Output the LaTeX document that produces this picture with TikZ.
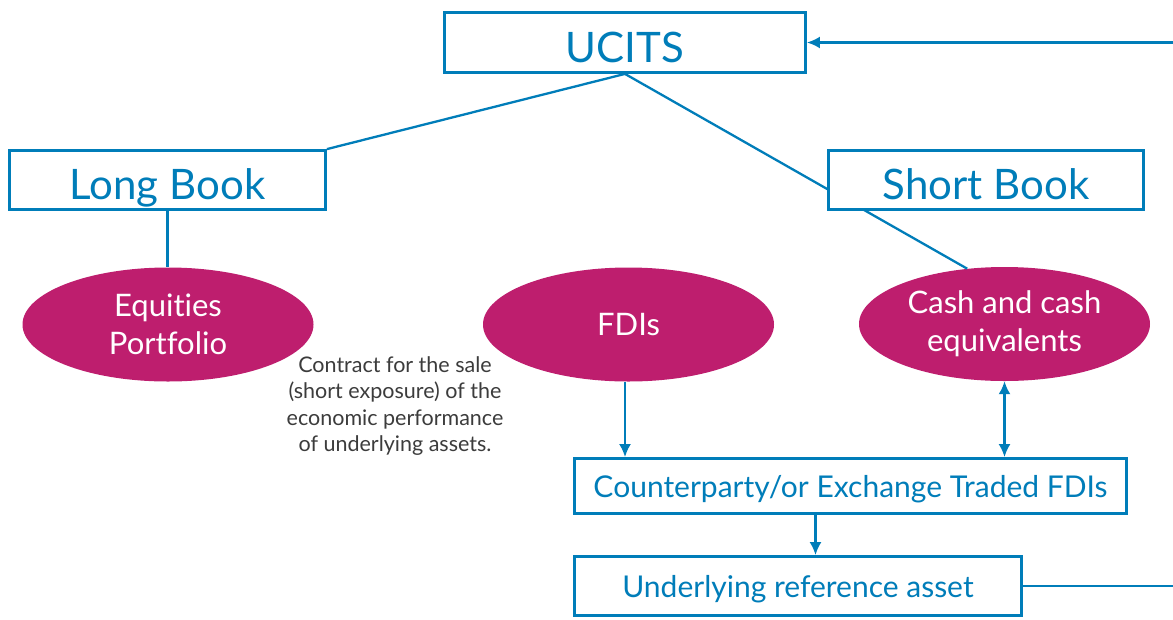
\documentclass[tikz,border=0pt]{standalone}
\usepackage{fontspec}
\setmainfont{Lato}[Ligatures=NoCommon]
\usetikzlibrary{arrows.meta,shapes.geometric,positioning}
\definecolor{ublue}{RGB}{0,125,185}
\definecolor{umag}{RGB}{190,30,110}
\definecolor{ugray}{RGB}{60,60,60}

\begin{document}
\begin{tikzpicture}[x=1pt, y=-1pt]
% one unit is one pixel of the original chart, y grows downwards

\tikzstyle{box} 	= [draw=ublue, line width=2.8pt, fill=white, rectangle, text=ublue, inner sep=0pt, text depth=0pt] % framed blue box
\tikzstyle{bigbox} 	= [box, minimum height=62pt, text height=39pt, font=\fontsize{42}{46}\selectfont]
\tikzstyle{lowbox} 	= [box, font=\fontsize{30}{34}\selectfont]
\tikzstyle{blob} 	= [ellipse, fill=umag, text=white, minimum width=291pt, minimum height=114pt, inner sep=0pt, align=center, font=\fontsize{31}{38}\selectfont] % magenta ellipse
\tikzstyle{link} 	= [draw=ublue, line width=2.3pt] % plain connector
\tikzstyle{arrow} 	= [link, -{Latex[length=13pt,width=12pt]}] % standard arrow
\tikzstyle{darrow} 	= [link, {Latex[length=13pt,width=12pt]}-{Latex[length=13pt,width=12pt]}]

\useasboundingbox (0,0) rectangle (1173,619);

% top box and the two books
\node(ucits)[bigbox, minimum width=361pt, minimum height=60pt] at (625,42.5){UCITS};
\node(lbook)[bigbox, minimum width=316pt, minimum height=59pt] at (167.5,180){Long Book};

% ellipses
\node(eq)[blob] at (168,324.5){Equities\\Portfolio};
\node(fdi)[blob] at (628.5,324.5){FDIs};
\node(cash)[blob] at (1004.5,324){Cash and cash\\equivalents};

% links from the top (the right one runs behind the short book)
\draw[link](ucits.south)--(lbook.north east);
\draw[link](ucits.south)--(cash.124);
\node(sbook)[bigbox, minimum width=315pt, minimum height=59pt] at (986,180){Short Book};
\draw[link](lbook.south)--(lbook.south |- eq.north);

% note under the equities
\node(note)[text=ugray, align=center, font=\fontsize{21.5}{26.5}\selectfont] at (395,406){Contract for the sale\\(short exposure) of the\\economic performance\\of underlying assets.};

% lower boxes
\node(cpty)[lowbox, minimum width=552pt, minimum height=55pt] at (850.5,486){Counterparty/or Exchange Traded FDIs};
\node(ura)[lowbox, minimum width=447pt, minimum height=59pt] at (798,586){Underlying reference asset};

% arrows
\draw[arrow]([xshift=-3.5pt]fdi.south)--([xshift=-3.5pt]fdi.south |- cpty.north);
\draw[darrow](cash.south)--(cash.south |- cpty.north);
\draw[arrow]([xshift=-35pt]cpty.south)--([xshift=-35pt]cpty.south |- ura.north);

% loose ends at the right margin
\coordinate(inR) at (1173,42.5);
\coordinate(outR) at (1173,586);
\draw[arrow](inR)--(ucits.east);
\draw[link](ura.east)--(outR);
\end{tikzpicture}
\end{document}
